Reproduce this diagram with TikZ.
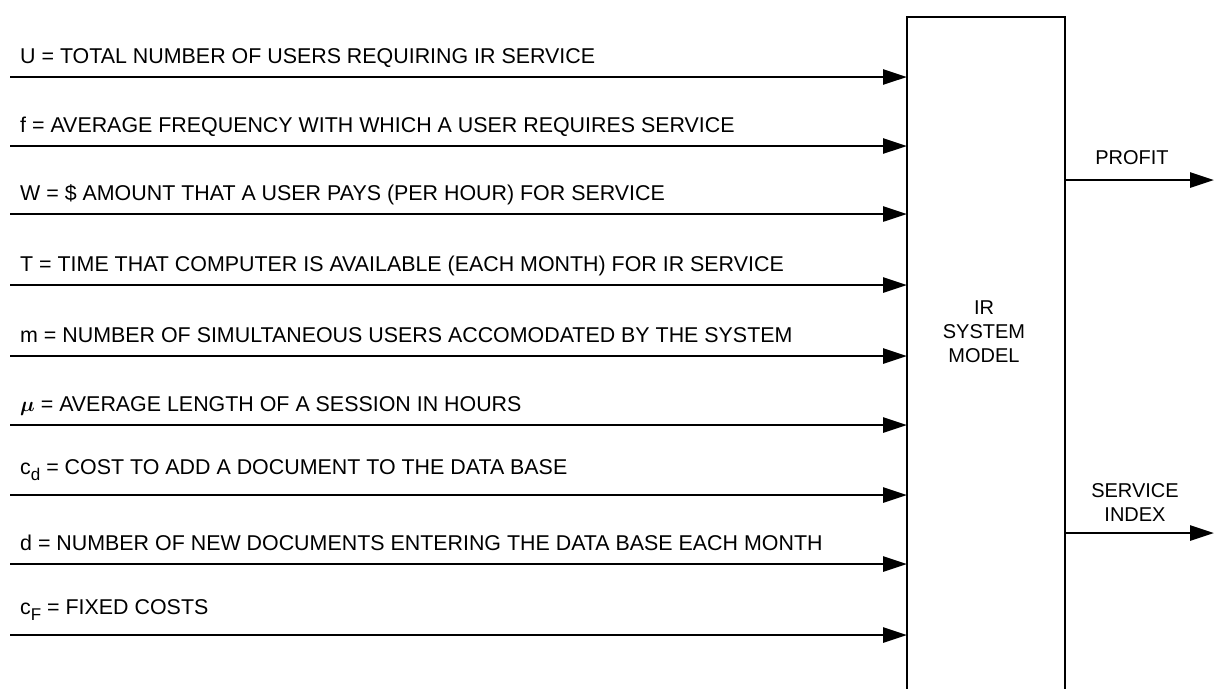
\documentclass[tikz,border=0pt]{standalone}
\usepackage{fontspec}
\usepackage{bm}
\setmainfont{Liberation Sans}
\usetikzlibrary{arrows.meta}

\tikzset{
  inarrow/.style={line width=2.8pt,-{Triangle[length=24pt,width=15pt]}},
  lbl/.style={anchor=base west,inner sep=0pt,font=\fontsize{21.4}{21.4}\selectfont},
  outlbl/.style={align=center,inner sep=0pt,font=\fontsize{20}{24}\selectfont},
}
\newcommand{\lowsub}[1]{\raisebox{-6pt}{\fontsize{17}{17}\selectfont #1}}

\begin{document}
\begin{tikzpicture}[x=1pt,y=-1pt]
\useasboundingbox (0,0) rectangle (1214,688);

\node[anchor=north west,inner sep=0pt,minimum width=158pt,minimum height=690pt] (model) at (907,17) {};
\draw[line width=2pt] (model.south west) -- (model.north west) -- (model.north east) -- (model.south east);
\node[outlbl] (v0) at (984,332) {IR\\SYSTEM\\MODEL};

\coordinate (v1) at (10,77);
\node[lbl] (v2) at (20,63) {U = TOTAL NUMBER OF USERS REQUIRING IR SERVICE};
\draw[inarrow] (v1) -- (v1 -| model.west);

\coordinate (v3) at (10,146);
\node[lbl] (v4) at (20,132) {f = AVERAGE FREQUENCY WITH WHICH A USER REQUIRES SERVICE};
\draw[inarrow] (v3) -- (v3 -| model.west);

\coordinate (v5) at (10,214);
\node[lbl] (v6) at (20,200) {W = \$ AMOUNT THAT A USER PAYS (PER HOUR) FOR SERVICE};
\draw[inarrow] (v5) -- (v5 -| model.west);

\coordinate (v7) at (10,285);
\node[lbl] (v8) at (20,271) {T = TIME THAT COMPUTER IS AVAILABLE (EACH MONTH) FOR IR SERVICE};
\draw[inarrow] (v7) -- (v7 -| model.west);

\coordinate (v9) at (10,356);
\node[lbl] (v10) at (20,342) {m = NUMBER OF SIMULTANEOUS USERS ACCOMODATED BY THE SYSTEM};
\draw[inarrow] (v9) -- (v9 -| model.west);

\coordinate (v11) at (10,425);
\node[lbl] (v12) at (20,411) {$\bm{\mu}$ = AVERAGE LENGTH OF A SESSION IN HOURS};
\draw[inarrow] (v11) -- (v11 -| model.west);

\coordinate (v13) at (10,495);
\node[lbl] (v14) at (20,474) {c\lowsub{d} = COST TO ADD A DOCUMENT TO THE DATA BASE};
\draw[inarrow] (v13) -- (v13 -| model.west);

\coordinate (v15) at (10,564);
\node[lbl] (v16) at (20,550) {d = NUMBER OF NEW DOCUMENTS ENTERING THE DATA BASE EACH MONTH};
\draw[inarrow] (v15) -- (v15 -| model.west);

\coordinate (v17) at (10,635);
\node[lbl] (v18) at (20,614) {c\lowsub{F} = FIXED COSTS};
\draw[inarrow] (v17) -- (v17 -| model.west);

% outputs
\coordinate (v19) at (1214,180);
\node[outlbl] (v20) at (1132,158) {PROFIT};
\draw[inarrow] (v19 -| model.east) -- (v19);

\coordinate (v21) at (1214,533);
\node[outlbl] (v22) at (1135,503) {SERVICE\\INDEX};
\draw[inarrow] (v21 -| model.east) -- (v21);
\end{tikzpicture}
\end{document}
